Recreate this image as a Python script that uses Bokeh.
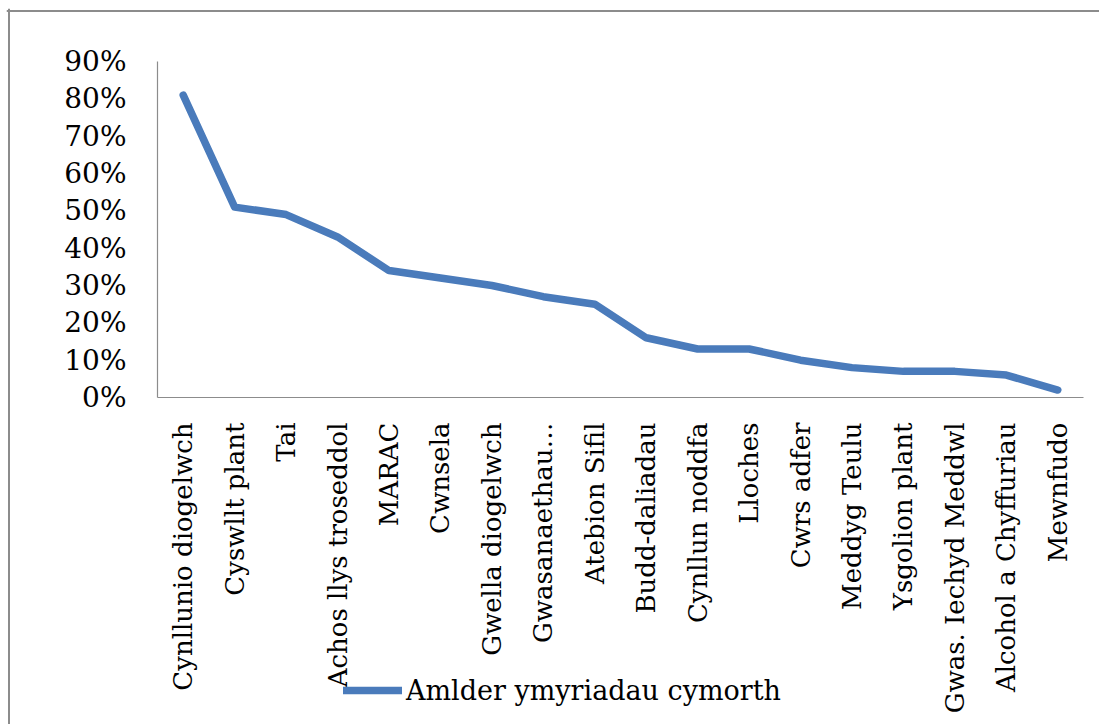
from bokeh.plotting import figure
from bokeh.models import (ColumnDataSource, FixedTicker, NumeralTickFormatter,
                          Range1d, Legend, LegendItem, Span)
from bokeh.embed import file_html
from bokeh.resources import INLINE
import math

categories = ["Cynllunio diogelwch", "Cyswllt plant", "Tai", "Achos llys troseddol",
              "MARAC", "Cwnsela", "Gwella diogelwch", "Gwasanaethau…",
              "Atebion Sifil", "Budd-daliadau", "Cynllun noddfa", "Lloches",
              "Cwrs adfer", "Meddyg Teulu", "Ysgolion plant", "Gwas. Iechyd Meddwl",
              "Alcohol a Chyffuriau", "Mewnfudo"]
values = [0.81, 0.51, 0.49, 0.43, 0.34, 0.32, 0.30, 0.27, 0.25, 0.16,
          0.13, 0.13, 0.10, 0.08, 0.07, 0.07, 0.06, 0.02]
y_ticks = [0, 0.1, 0.2, 0.3, 0.4, 0.5, 0.6, 0.7, 0.8, 0.9]
series_name = "Amlder ymyriadau cymorth"

FONT = "DejaVu Serif"
BLUE = "#4a7bbb"
GREY = "#8c8c8c"

W, H = 1099, 724
FRAME_L, FRAME_T = 6, 8          # frame starts here (pixels)
PLOT_L, PLOT_R = 157, 1083        # plotting area of the chart (pixels)
PLOT_T, PLOT_B = 61, 397
n = len(categories)
px_per_cat = (PLOT_R - PLOT_L) / n
px_per_unit = (PLOT_B - PLOT_T) / 0.9
x0 = -0.5 - (PLOT_L - FRAME_L) / px_per_cat
x1 = -0.5 + (W - PLOT_L) / px_per_cat
y1 = (PLOT_B - FRAME_T) / px_per_unit
y0 = -(H - PLOT_B) / px_per_unit

xs = list(range(n))
src = ColumnDataSource(dict(x=xs, val=values))

p = figure(x_range=Range1d(x0, x1), y_range=Range1d(y0, y1),
           width=W, height=H, output_backend="svg", toolbar_location=None,
           min_border_left=FRAME_L, min_border_right=0, min_border_top=FRAME_T,
           min_border_bottom=0)
p.outline_line_color = None
p.background_fill_color = "white"
p.border_fill_color = "white"

# outer chart border (left and top only visible)
p.add_layout(Span(location=x0 + 2.5 / px_per_cat, dimension="height",
                  line_color=GREY, line_width=2))
p.add_layout(Span(location=y1 - 2.5 / px_per_unit, dimension="width",
                  line_color=GREY, line_width=2))

r = p.line("x", "val", source=src, line_color=BLUE, line_width=7.5,
           line_join="round", line_cap="round")

p.xgrid.grid_line_color = None
p.ygrid.grid_line_color = None

p.yaxis.ticker = FixedTicker(ticks=y_ticks)
p.yaxis.formatter = NumeralTickFormatter(format="0%")
p.yaxis.bounds = (0, 0.9)
p.yaxis.fixed_location = -0.5
p.xaxis.ticker = FixedTicker(ticks=xs)
p.xaxis.major_label_overrides = {i: c for i, c in enumerate(categories)}
p.xaxis.bounds = (-0.5, n - 0.5)
p.xaxis.fixed_location = 0
for ax in (p.xaxis[0], p.yaxis[0]):
    ax.axis_line_color = GREY
    ax.axis_line_width = 1.2
    ax.major_tick_line_color = None
    ax.minor_tick_line_color = None
    ax.major_label_text_font = FONT
    ax.major_label_text_color = "black"
p.xaxis.major_label_text_font_size = "26px"
p.yaxis.major_label_text_font_size = "28px"
p.yaxis.major_label_standoff = 25
p.xaxis.major_label_standoff = 19
p.xaxis.major_label_orientation = math.pi / 2

legend = Legend(items=[LegendItem(label=series_name, renderers=[r])],
                location=(343 - FRAME_L, H - 706), padding=0, margin=0, spacing=0,
                glyph_width=59, glyph_height=32, label_height=32,
                label_standoff=4, border_line_color=None,
                background_fill_alpha=0,
                label_text_font=FONT, label_text_font_size="27px",
                label_text_color="black")
p.add_layout(legend, "center")

open("out.html", "w").write(file_html(p, INLINE))
